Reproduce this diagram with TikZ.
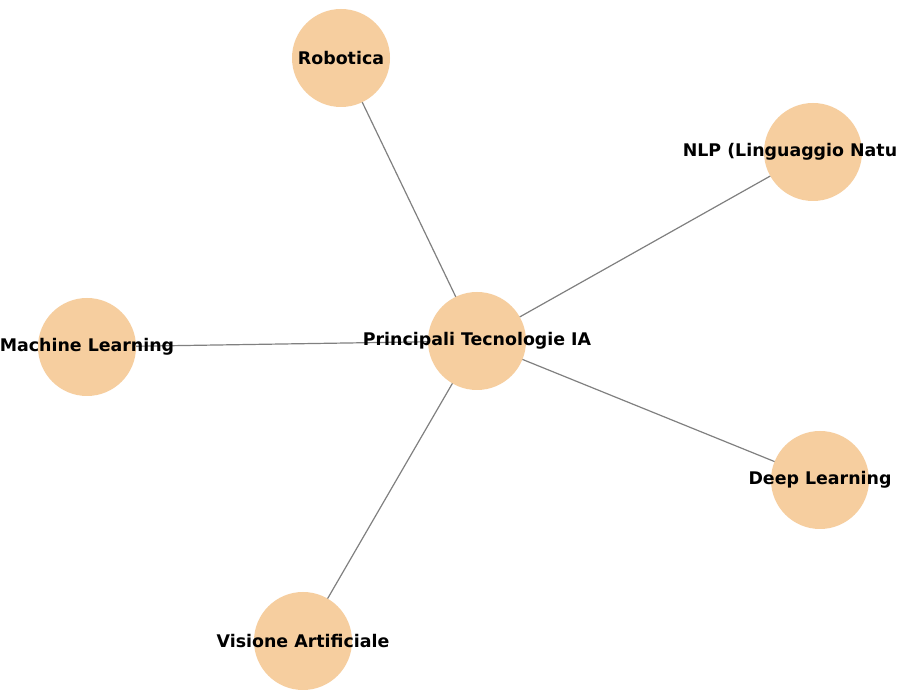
\documentclass[tikz,border=0pt]{standalone}
\usepackage{fontspec}
\setmainfont{DejaVu Sans}
\definecolor{nodefill}{RGB}{246,206,159}
\definecolor{edgecol}{RGB}{128,128,128}
\tikzset{
  bubble/.style={circle, fill=nodefill, minimum size=98pt, inner sep=0pt},
  lbl/.style={font=\fontsize{17.4}{20}\selectfont\bfseries, text=black, inner sep=0pt},
  link/.style={draw=edgecol, line width=1.2pt}
}
\begin{document}
\begin{tikzpicture}[x=1pt,y=1pt]
\useasboundingbox (0,0) rectangle (898,691);
\clip (0,0) rectangle (898,691);
\fill[white] (0,0) rectangle (898,691);
% centres
\coordinate (c) at (477,350);
\coordinate (rob) at (341,633);
\coordinate (nlp) at (813,539);
\coordinate (ml) at (87,344);
\coordinate (dl) at (820,211);
\coordinate (vis) at (303,50);
% edges
\draw[link] (c) -- (rob);
\draw[link] (c) -- (nlp);
\draw[link] (c) -- (ml);
\draw[link] (c) -- (dl);
\draw[link] (c) -- (vis);
% circles
\node[bubble] (cB) at (c) {};
\node[bubble] (robB) at (rob) {};
\node[bubble] (nlpB) at (nlp) {};
\node[bubble] (mlB) at (ml) {};
\node[bubble] (dlB) at (dl) {};
\node[bubble] (visB) at (vis) {};
% labels
\node[lbl] (cL) at (c) {Principali Tecnologie IA};
\node[lbl] (robL) at (rob) {Robotica};
\node[lbl] (nlpL) at (nlp) {NLP (Linguaggio Naturale)};
\node[lbl] (mlL) at (ml) {Machine Learning};
\node[lbl] (dlL) at (dl) {Deep Learning};
\node[lbl] (visL) at (vis) {Visione Artificiale};
\end{tikzpicture}
\end{document}
